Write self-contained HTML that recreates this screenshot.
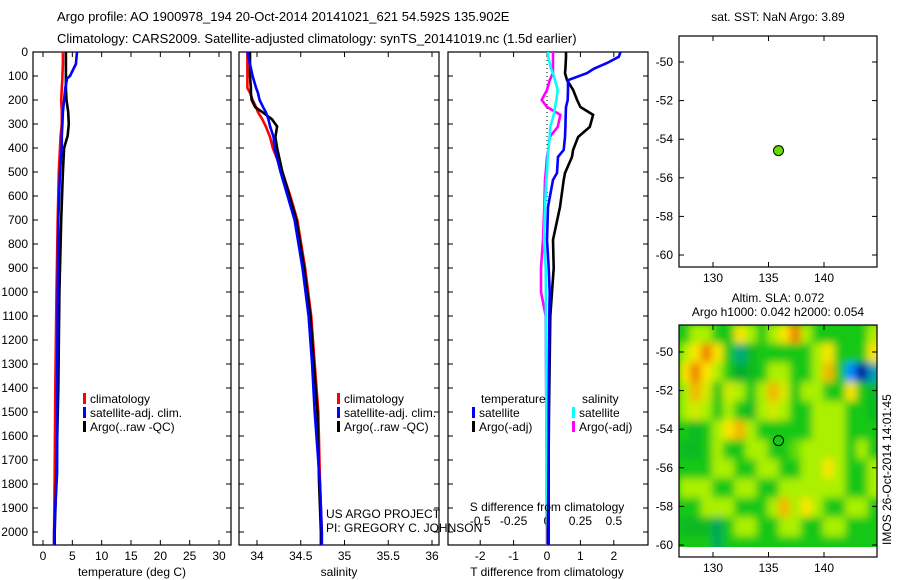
<!DOCTYPE html>
<html><head><meta charset="utf-8"><style>
body{margin:0;background:#fff}
svg{display:block;font-family:"Liberation Sans",sans-serif}
text{font-size:12px;fill:#000}
</style></head><body>
<svg id="c" width="900" height="580" viewBox="0 0 900 580">
<defs>
<filter id="blur" x="-5%" y="-5%" width="110%" height="110%"><feGaussianBlur stdDeviation="4"/></filter>
<clipPath id="hmclip"><rect x="679" y="325" width="198" height="222"/></clipPath>
</defs>
<text x="57" y="21" style="font-size:13px">Argo profile: AO 1900978_194 20-Oct-2014 20141021_621 54.592S 135.902E</text>
<text x="57" y="43" style="font-size:13px">Climatology: CARS2009. Satellite-adjusted climatology: synTS_20141019.nc (1.5d earlier)</text>
<g id="g"></g>
</svg>
<script>
// ---------- data ----------
const depthT = [0,50,100,110,150,200,250,300,350,400,500,700,1000,1400,1750,2000,2054];
const tempClim = [3.4,3.4,3.3,3.3,3.2,3.1,3.2,3.2,3.0,2.9,2.7,2.5,2.3,2.1,2.0,1.9,1.9];
const tempArgo = [3.9,3.9,3.9,3.9,3.9,4.0,4.3,4.4,4.2,3.6,3.4,3.1,2.8,2.6,2.3,2.0,2.0];
const tempSat = [5.8,5.6,4.6,4.1,3.8,3.6,3.4,3.3,3.2,3.2,2.9,2.6,2.5,2.4,2.4,1.9,1.9];
const depthS = [0,50,100,150,170,200,230,250,280,310,355,400,500,600,700,900,1100,1300,1500,1800,2000,2054];
const salClim = [33.89,33.89,33.89,33.89,33.92,33.95,33.99,34.01,34.06,34.10,34.15,34.18,34.29,34.38,34.46,34.55,34.62,34.66,34.70,34.72,34.74,34.74];
const salArgo = [33.92,33.92,33.92,33.93,33.93,33.94,33.98,34.06,34.17,34.23,34.21,34.23,34.29,34.37,34.45,34.54,34.61,34.65,34.69,34.71,34.73,34.73];
const salSat = [33.89,33.92,33.95,33.99,34.01,34.03,34.07,34.10,34.13,34.15,34.19,34.20,34.27,34.35,34.43,34.52,34.59,34.63,34.66,34.72,34.74,34.74];
const depthD = [0,20,46,70,88,117,158,200,229,262,312,354,408,437,504,533,646,783,900,1000,1100,1500,2000,2054];
const dTsat = [2.2,2.15,1.8,1.4,1.2,0.63,0.63,0.62,0.57,0.56,0.55,0.54,0.5,0.33,0.3,0.18,0.03,0.0,0.05,0.08,0.07,0.05,0.05,0.05];
const dTargo = [0.57,0.57,0.56,0.55,0.54,0.6,0.78,0.9,1.0,1.38,1.28,0.93,0.78,0.75,0.54,0.5,0.39,0.18,0.2,0.15,0.1,0.06,0.03,0.03];
const dSsat = [0.007,0.01,0.02,0.03,0.045,0.06,0.08,0.07,0.06,0.05,0.025,0.02,0.01,0.005,0.0,-0.005,-0.015,-0.022,-0.01,-0.008,-0.008,-0.005,0.005,0.005];
const dSargo = [0.045,0.045,0.045,0.045,0.045,0.02,0.0,-0.04,0.0,0.1,0.08,0.02,0.01,0.0,-0.01,-0.015,-0.02,-0.03,-0.045,-0.045,-0.01,-0.005,0.0,0.0];
const depthTicks = [0,100,200,300,400,500,600,700,800,900,1000,1100,1200,1300,1400,1500,1600,1700,1800,1900,2000];
const tempTicks = [0,5,10,15,20,25,30];
const salTicks = [34,34.5,35,35.5,36];
const salTickLabels = ["34","34.5","35","35.5","36"];
const dTTicks = [-2,-1,0,1,2];
const dSTicks = [-0.5,-0.25,0,0.25,0.5];
const dSTickLabels = ["-0.5","-0.25","0","0.25","0.5"];
const latTicks = [-50,-52,-54,-56,-58,-60];
const lonTicks = [130,135,140];
const argoLon = [135.902];
const argoLat = [-54.592];
// SLA grid: rows lat -48.6 .. -60.6 (1 deg), cols lon 127..145 (1 deg)
const slaGrid = [
 [1,2,2,1,1,3,2,1,2,3,4,2,1,1,1,1,1,2,3.5],
 [2,3,4,3,1,-1,0.5,1,1,1,1,1,2,3,1,1,1,3,3],
 [3,4,3,2,1,0,0.5,1,2,2,1,1,2,3.5,1,-2,-3,-1.5,1],
 [2,3.5,2.5,1,2.5,2,1,2,3.5,2.5,1,2,2,1,1,3,1,0.5,0.5],
 [2,2.5,2,1,2,1,0.5,2,2.5,2,1,1,2,2,2,1,1,0.5,1],
 [1,0.5,1,2,3,3.5,2,1,1,1,1,1,2,2,2,1,1,1,1],
 [0.5,0.5,1,2,1,1,2,2,1,1,1.5,2,2,2,2,1,2,1,1],
 [1,1,1,2,2,1,1,2,2,1,1,2,2,3,2,1,1,2,2],
 [2,2,2,1,1,2,2,1,1,2,2,2,2,2,2,1,1,2,2],
 [1,1,2,2,2,1,1,1,2,3.5,2,3,2,1,1,2,2,1,1],
 [0.5,0.5,0.5,-0.5,1,2,2,1,1,2,2,1,1,2,2,1,1,1,1],
 [1,1,1,-0.5,1,1,1,1,1,1,1,1,1,1,1,1,1,1,1]
];
// ---------- helpers ----------
const NS = "http://www.w3.org/2000/svg";
const G = document.getElementById('g');
function mk(tag, attrs, parent){const e=document.createElementNS(NS,tag);for(const k in attrs)e.setAttribute(k,attrs[k]);(parent||G).appendChild(e);return e;}
function txt(x,y,s,anchor,parent,size){const t=mk('text',{x:x,y:y,'text-anchor':anchor||'start'},parent);if(size)t.style.fontSize=size+'px';t.textContent=s;return t;}
const top0=52, bot=545;
const yD = d => top0 + d*0.24;
const xT = v => 43 + v*5.867;
const xS = v => 257 + (v-34)*87.5;
const xDT = v => 547 + v*33.4;
const xDS = v => 547 + v*133.6;
function stepPath(xs, ds, fx){let p='';for(let i=0;i<xs.length;i++){const x=fx(xs[i]).toFixed(1),y=yD(ds[i]).toFixed(1);p+=(i?'L':'M')+x+' '+y;}return p;}
function box(x0,x1,y0,y1,name){const r=mk('rect',{x:x0,y:y0,width:x1-x0,height:y1-y0,fill:'none',stroke:'#000','stroke-width':1.2});}
function xticks(vals,labels,fx,y0,y1,ly,name){vals.forEach((v,i)=>{const x=fx(v);mk('line',{x1:x,x2:x,y1:y1,y2:y1-5,stroke:'#000'});mk('line',{x1:x,x2:x,y1:y0,y2:y0+5,stroke:'#000'});if(ly){const t=txt(x,ly,labels[i],'middle');}});}
function yticksDepth(x0,x1,labels){depthTicks.forEach(d=>{const y=yD(d);mk('line',{x1:x0,x2:x0+5,y1:y,y2:y,stroke:'#000'});mk('line',{x1:x1,x2:x1-5,y1:y,y2:y,stroke:'#000'});if(labels){const t=txt(28,y+4,String(d),'end');}});}
function line(xs,ds,fx,col,name){const p=mk('path',{d:stepPath(xs,ds,fx),fill:'none',stroke:col,'stroke-width':2.6,'stroke-linejoin':'miter'});}
function legend(x,y,col,label){mk('rect',{x:x,y:y-10,width:3,height:11,fill:col});const t=txt(x+7,y,label,'start');}
// ---------- panel 1: temperature ----------
box(33,231,top0,bot,'temperature-panel');
yticksDepth(33,231,true);
xticks(tempTicks,tempTicks.map(String),xT,top0,bot,560,'temperature');
line(tempClim,depthT,xT,'#ff0000','temperature-climatology-line');
line(tempArgo,depthT,xT,'#000000','temperature-argo-line');
line(tempSat,depthT,xT,'#0000ff','temperature-satellite-line');
legend(83,403,'#ff0000','climatology');legend(83,417,'#0000ff','satellite-adj. clim.');legend(83,431,'#000','Argo(..raw -QC)');
{const t=txt(132,576,'temperature (deg C)','middle');}
// ---------- panel 2: salinity ----------
box(239,439,top0,bot,'salinity-panel');
yticksDepth(239,439,false);
xticks(salTicks,salTickLabels,xS,top0,bot,560,'salinity');
line(salClim,depthS,xS,'#ff0000','salinity-climatology-line');
line(salArgo,depthS,xS,'#000000','salinity-argo-line');
line(salSat,depthS,xS,'#0000ff','salinity-satellite-line');
legend(337,403,'#ff0000','climatology');legend(337,417,'#0000ff','satellite-adj. clim.');legend(337,431,'#000','Argo(..raw -QC)');
{const t=txt(339,576,'salinity','middle');}
{const t=txt(326,518,'US ARGO PROJECT');}
{const t=txt(326,532,'PI: GREGORY C. JOHNSON');}
// ---------- panel 3: differences ----------
box(448,648,top0,bot,'difference-panel');
yticksDepth(448,648,false);
xticks(dTTicks,dTTicks.map(String),xDT,top0,bot,560,'t-difference');
dSTicks.forEach((v,i)=>{const t=txt(xDS(v),525,dSTickLabels[i],'middle');});
mk('line',{x1:xDT(0),x2:xDT(0),y1:top0,y2:yD(620),stroke:'#000','stroke-dasharray':'1,3'});
line(dSargo,depthD,xDS,'#ff00ff','s-diff-argo-line');
line(dSsat,depthD,xDS,'#00ffff','s-diff-satellite-line');
line(dTargo,depthD,xDT,'#000000','t-diff-argo-line');
line(dTsat,depthD,xDT,'#0000ff','t-diff-satellite-line');
{const t=txt(481,403,'temperature');}
{const t=txt(582,403,'salinity');}
legend(472,417,'#0000ff','satellite');legend(472,431,'#000','Argo(-adj)');
legend(572,417,'#00ffff','satellite');legend(572,431,'#ff00ff','Argo(-adj)');
{const t=txt(547,511,'S difference from climatology','middle');}
{const t=txt(547,576,'T difference from climatology','middle');}
// ---------- maps ----------
const xLon = v => 713 + (v-130)*11.1;
function mapAxes(y0,y1,latY,labelY,name){
  box(679,877,y0,y1,name);
  latTicks.forEach(l=>{const y=latY(l);mk('line',{x1:679,x2:684,y1:y,y2:y,stroke:'#000'});mk('line',{x1:877,x2:872,y1:y,y2:y,stroke:'#000'});const t=txt(673,y+4,String(l),'end');});
  lonTicks.forEach(l=>{const x=xLon(l);mk('line',{x1:x,x2:x,y1:y0,y2:y0+5,stroke:'#000'});mk('line',{x1:x,x2:x,y1:y1,y2:y1-5,stroke:'#000'});const t=txt(x,labelY,String(l),'middle');});
}
const latTop = v => 62 + (-50 - v)*19.3;
const latBot = v => 352 + (-50 - v)*19.3;
{const t=txt(778,21,'sat. SST: NaN Argo: 3.89','middle');}
mapAxes(36,267,latTop,282,'sst-map');
argoLon.forEach((lo,i)=>{const c=mk('circle',{cx:xLon(lo),cy:latTop(argoLat[i]),r:5,fill:'#66dd00',stroke:'#000','stroke-width':1});});
// heatmap
function slaColor(v){
  const stops=[[-3,[0,0,160]],[-2,[0,140,255]],[-1,[0,170,130]],[0,[0,170,50]],[1,[20,200,20]],[2,[170,240,0]],[3,[250,230,0]],[4,[240,130,0]]];
  if(v<=stops[0][0])return 'rgb('+stops[0][1]+')';
  for(let i=1;i<stops.length;i++){if(v<=stops[i][0]){const a=stops[i-1],b=stops[i],t=(v-a[0])/(b[0]-a[0]);return 'rgb('+a[1].map((c,k)=>Math.round(c+(b[1][k]-c)*t)).join(',')+')';}}
  return 'rgb('+stops[stops.length-1][1]+')';
}
const hmg = mk('g',{'clip-path':'url(#hmclip)'});


mk('rect',{x:679,y:325,width:198,height:222,fill:slaColor(1)},hmg);
const hmInner = mk('g',{filter:'url(#blur)'},hmg);
slaGrid.forEach((row,r)=>row.forEach((v,c)=>{const lat=-48.6-r, lon=127+c;const x=xLon(lon), y=latBot(lat);const cell=mk('rect',{x:x-1,y:y-1,width:13.1,height:21.3,fill:slaColor(v)},hmInner);}));
{const t=txt(778,302,'Altim. SLA: 0.072','middle');}
{const t=txt(778,316,'Argo h1000: 0.042 h2000: 0.054','middle');}
mapAxes(325,557,latBot,572,'sla-map');
argoLon.forEach((lo,i)=>{const c=mk('circle',{cx:xLon(lo),cy:latBot(argoLat[i]),r:5,fill:'none',stroke:'#000','stroke-width':1});});
{const t=txt(0,0,'IMOS 26-Oct-2014 14:01:45','start');t.setAttribute('transform','translate(891,545) rotate(-90)');}
</script>
</body></html>
